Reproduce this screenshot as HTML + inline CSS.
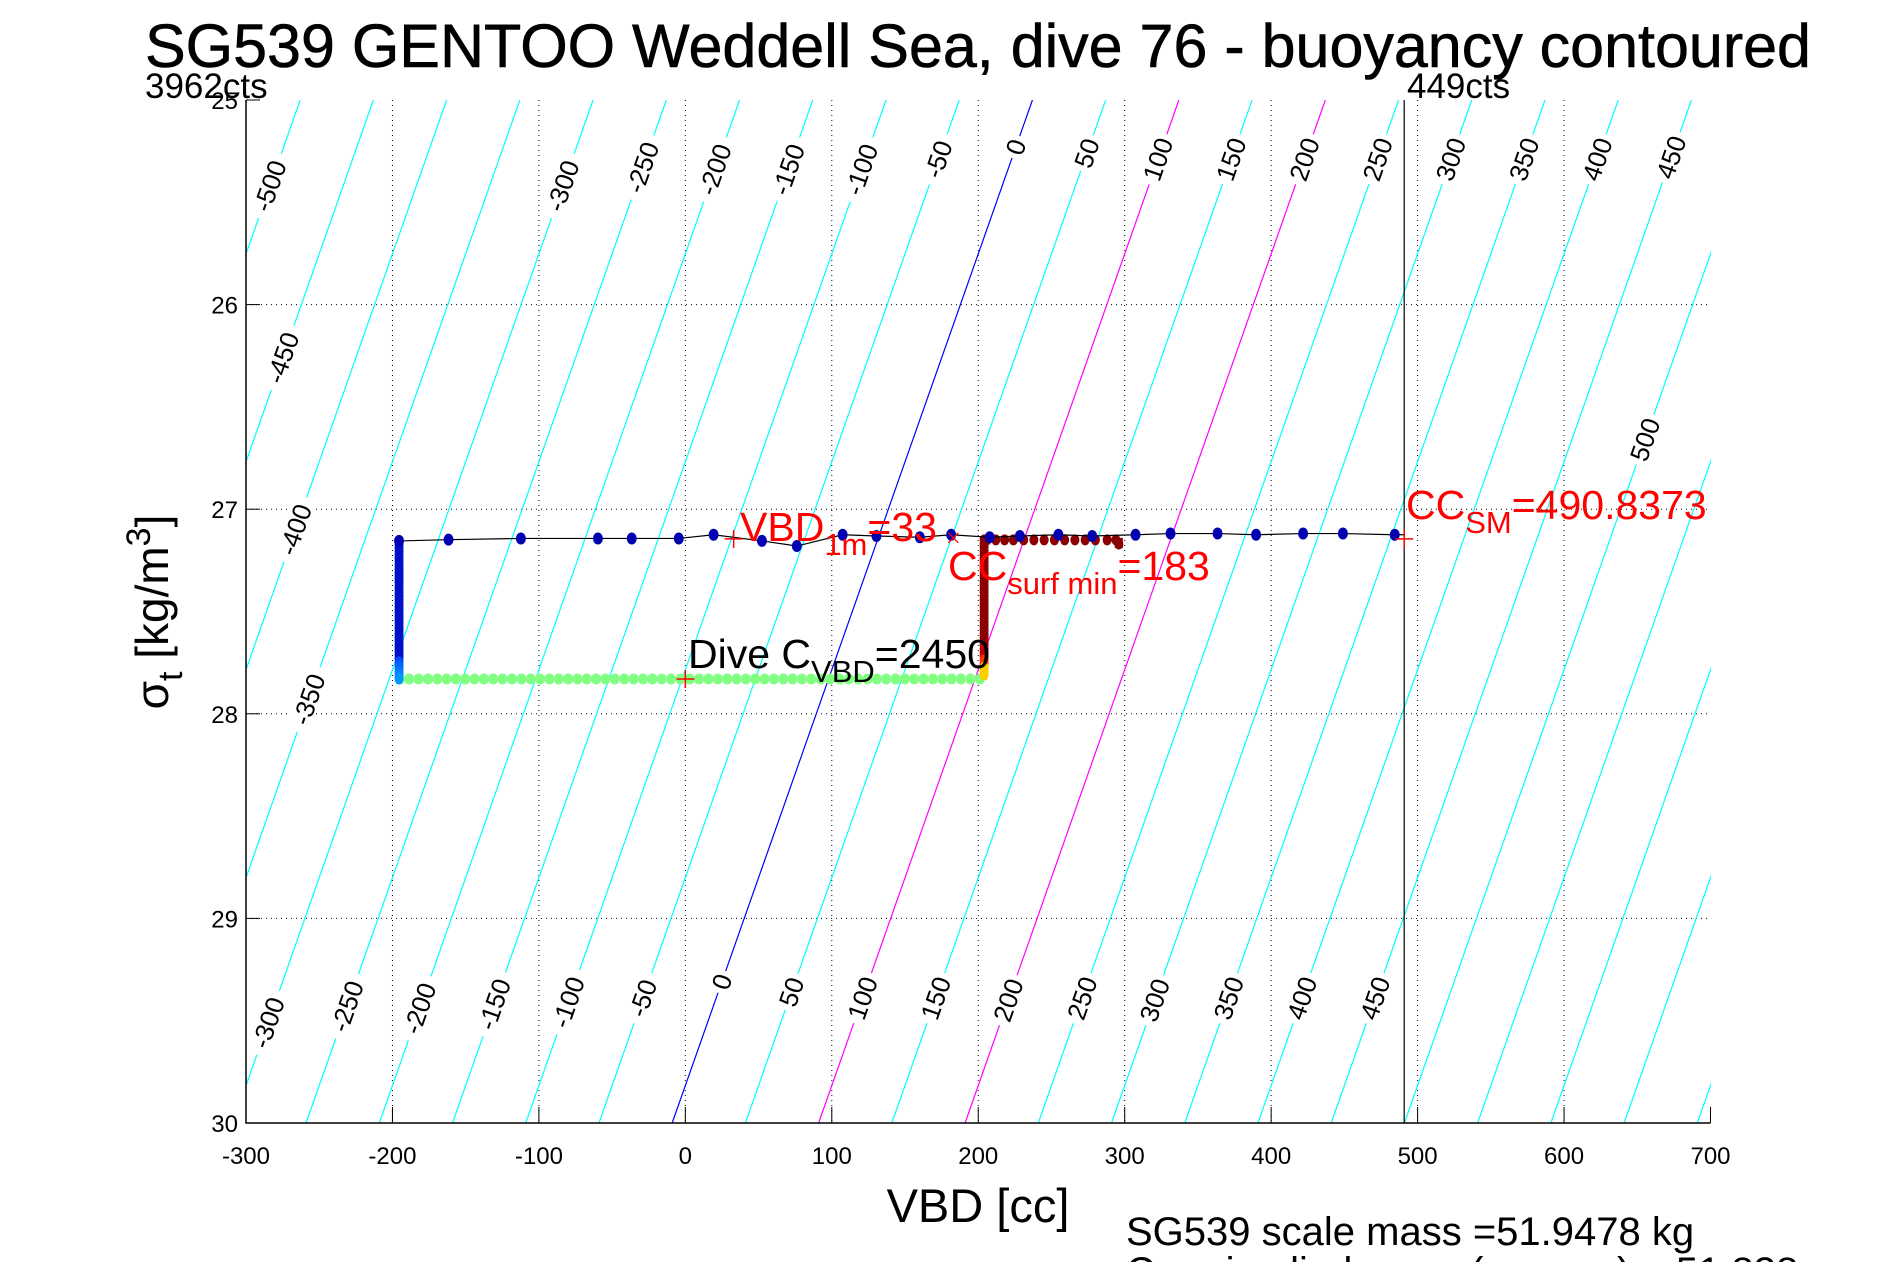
<!DOCTYPE html>
<html><head><meta charset="utf-8">
<style>
html,body{margin:0;padding:0;background:#fff;}
svg{display:block;font-family:"Liberation Sans",Arial,sans-serif;}
</style></head>
<body>
<svg id="chart" width="1891" height="1262" viewBox="0 0 1891 1262" xmlns="http://www.w3.org/2000/svg">
<defs><clipPath id="plotclip"><rect x="246" y="100" width="1465" height="1023"/></clipPath></defs>
<rect x="0" y="0" width="1891" height="1262" fill="#fff"/>
<g id="grid"></g>
<g id="contours" clip-path="url(#plotclip)"></g>
<g id="clabels"></g>
<g id="series"></g>
<g id="axes"></g>
<text x="978" y="67" font-size="61" text-anchor="middle" stroke="#000" stroke-width="0.6">SG539 GENTOO Weddell Sea, dive 76 - buoyancy contoured</text>
<text x="145" y="98" font-size="35">3962cts</text>
<text x="1407" y="98" font-size="35">449cts</text>
<text x="978" y="1222" font-size="47" text-anchor="middle">VBD [cc]</text>
<text transform="translate(168,612) rotate(-90)" font-size="46" text-anchor="middle">σ<tspan font-size="34" dy="14">t</tspan><tspan dy="-14"> [kg/m</tspan><tspan font-size="34" dy="-18">3</tspan><tspan dy="18">]</tspan></text>
<text x="1126" y="1245" font-size="40">SG539 scale mass =51.9478 kg</text>
<text x="1126" y="1285" font-size="40">C<tspan font-size="29" dy="10">VBD</tspan><tspan dy="-10"> implied mass (apogee) = 51.838</tspan></text>
</svg>
<script>
const xTicks=[-300,-200,-100,0,100,200,300,400,500,600,700];
const yTicks=[25,26,27,28,29,30];
const contourLevels=[-800,-750,-700,-650,-600,-550,-500,-450,-400,-350,-300,-250,-200,-150,-100,-50,0,50,100,150,200,250,300,350,400,450,500,550,600,650,700,750];
const topLabelVals=[-500,-300,-250,-200,-150,-100,-50,0,50,100,150,200,250,300,350,400,450];
const topLabelSig=[25.42,25.42,25.33,25.34,25.34,25.34,25.29,25.23,25.26,25.29,25.29,25.29,25.29,25.29,25.29,25.29,25.28];
const sideLabelVals=[-450,-400,-350,500];
const sideLabelSig=[26.26,27.1,27.93,26.66];
const botLabelVals=[-300,-250,-200,-150,-100,-50,0,50,100,150,200,250,300,350,400,450];
const botLabelSig=[29.51,29.43,29.44,29.42,29.41,29.39,29.31,29.36,29.39,29.39,29.4,29.39,29.4,29.39,29.39,29.39];
const descentVBD=[-195.5,-161.7,-112.3,-59.7,-36.6,-4.5,19.3,52.3,76.1,107.4,130.5,160.1,181.5,207.8,228.4,254.7,277.8,307.4,331.3,363.4,389.7,421.8,449,484.4];
const descentSig=[27.155,27.149,27.143,27.143,27.143,27.143,27.125,27.155,27.18,27.125,27.131,27.137,27.125,27.137,27.131,27.125,27.131,27.125,27.119,27.119,27.125,27.119,27.119,27.125];
const surfVBD=[206,212,218,224,231,238,245,252,259,266,273,280,288,294,296];
const surfSig=[27.15,27.15,27.15,27.15,27.15,27.15,27.15,27.15,27.15,27.15,27.15,27.15,27.15,27.15,27.17];
const bottomSig=27.83;
const leftVBD=-195.5;
const rightVBD=204;
const greenStart=-195, greenEnd=201;
const ccSM=490.8373, vbd1m=33, ccSurf=183;

const NS='http://www.w3.org/2000/svg';
const X0=246,X1=1710.5,Y0=100,Y1=1123;
const xs=v=>X0+(v+300)/1000*(X1-X0);
const ys=s=>Y0+(s-25)/5*(Y1-Y0);
const cVBD=(b,s)=>b-9+49.2*(30-s);
function mk(tag,attrs,parent){const e=document.createElementNS(NS,tag);for(const k in attrs)e.setAttribute(k,attrs[k]);parent.appendChild(e);return e;}
const grid=document.getElementById('grid'),axes=document.getElementById('axes'),cont=document.getElementById('contours'),cl=document.getElementById('clabels'),ser=document.getElementById('series');

xTicks.forEach(v=>{
  if(v>-300&&v<700){const g=mk('line',{x1:xs(v),x2:xs(v),y1:Y0,y2:Y1,stroke:'#000','stroke-width':1,'stroke-dasharray':'1 4'},grid);
  }
  const t=mk('line',{x1:xs(v),x2:xs(v),y1:Y1,y2:Y1-16,stroke:'#000'},axes);
  
  const l=mk('text',{x:xs(v),y:Y1+41,'font-size':24,'text-anchor':'middle'},axes);l.textContent=v;
  
});
yTicks.forEach(s=>{
  if(s>25&&s<30){const g=mk('line',{x1:X0,x2:X1,y1:ys(s),y2:ys(s),stroke:'#000','stroke-width':1,'stroke-dasharray':'1 4'},grid);
  }
  const t=mk('line',{x1:X0,x2:X0+14,y1:ys(s),y2:ys(s),stroke:'#000'},axes);
  
  const l=mk('text',{x:X0-8,y:ys(s)+9,'font-size':24,'text-anchor':'end'},axes);l.textContent=s;
  
});
const fr=mk('path',{d:`M${X0},${Y0}V${Y1}H${X1}`,fill:'none',stroke:'#000','stroke-width':1.5},axes);


contourLevels.forEach(b=>{
  const col=b===0?'#0000ff':(b===100||b===200)?'#ff00ff':'#00ffff';
  const l=mk('line',{x1:xs(cVBD(b,30)),y1:ys(30),x2:xs(cVBD(b,25)),y2:ys(25),stroke:col,'stroke-width':1.2},cont);
  
});
function clabel(b,s){
  const x=xs(cVBD(b,s)),y=ys(s);
  const g=mk('g',{transform:`translate(${x},${y}) rotate(-70.6)`},cl);
  
  const w=String(b).length*15+8;
  mk('rect',{x:-w/2,y:-13,width:w,height:24,fill:'#fff'},g);
  const t=mk('text',{x:0,y:9,'font-size':26,'text-anchor':'middle'},g);t.textContent=b;
}
topLabelVals.forEach((b,i)=>clabel(b,topLabelSig[i]));
sideLabelVals.forEach((b,i)=>clabel(b,sideLabelSig[i]));
botLabelVals.forEach((b,i)=>clabel(b,botLabelSig[i]));

const cc=mk('line',{x1:xs(ccSM),x2:xs(ccSM),y1:Y0,y2:Y1,stroke:'#000','stroke-width':1.2},ser);


const nG=62;
for(let i=0;i<=nG;i++){const v=greenStart+(greenEnd-greenStart)*i/nG;
  const c=mk('ellipse',{cx:xs(v),cy:ys(bottomSig),rx:5,ry:5.5,fill:'#80ff80'},ser);
  }
const nB=40;
for(let i=0;i<=nB;i++){const s=descentSig[0]+(bottomSig-descentSig[0])*i/nB;
  const f=i/nB; const col=f>0.85?`rgb(0,${Math.round(60+(f-0.85)*600)},255)`:'#0010c8';
  const c=mk('ellipse',{cx:xs(leftVBD),cy:ys(s),rx:4.5,ry:5.5,fill:col},ser);
  }
const nR=36;
for(let i=0;i<=nR;i++){const s=surfSig[0]+(bottomSig-0.02-surfSig[0])*i/nR;
  const f=i/nR; const col=f>0.93?'#ffcc00':f>0.88?'#ff3000':f>0.8?'#c00000':'#8b0000';
  const c=mk('ellipse',{cx:xs(rightVBD),cy:ys(s),rx:4.5,ry:5.5,fill:col},ser);
  }
surfVBD.forEach((v,i)=>{const c=mk('ellipse',{cx:xs(v),cy:ys(surfSig[i]),rx:4.5,ry:5.5,fill:'#8b0000'},ser);
  });
const sl=mk('line',{x1:xs(296),x2:xs(296),y1:ys(27.14),y2:ys(27.19),stroke:'#8b0000','stroke-width':8},ser);

const pts=descentVBD.map((v,i)=>`${xs(v)},${ys(descentSig[i])}`);
pts.unshift(`${xs(leftVBD)},${ys(descentSig[0])}`);
pts.push(`${xs(ccSM)},${ys(27.125)}`);
const pl=mk('polyline',{points:pts.join(' '),fill:'none',stroke:'#000','stroke-width':1.2},ser);

descentVBD.forEach((v,i)=>{const c=mk('ellipse',{cx:xs(v),cy:ys(descentSig[i]),rx:5,ry:6,fill:'#0000b0'},ser);
  });
function plus(v,s,name){const g=mk('path',{d:`M${xs(v)-9},${ys(s)}h18M${xs(v)},${ys(s)-9}v18`,stroke:'#ff0000','stroke-width':1.5},ser);
  }
plus(vbd1m,27.145,'vbd1m-marker');plus(0,bottomSig,'dive-cvbd-marker');plus(ccSM,27.145,'cc-sm-marker');
const xm=mk('path',{d:`M${xs(ccSurf)-5},${ys(27.14)-5}l10,10M${xs(ccSurf)+5},${ys(27.14)-5}l-10,10`,stroke:'#ff0000','stroke-width':1.3},ser);

function ann(x,y,main,sub,rest,col,name){
  const t=mk('text',{x:x,y:y,'font-size':41,fill:col},ser);
  
  t.innerHTML=`${main}<tspan font-size="31" dy="14">${sub}</tspan><tspan dy="-14">${rest}</tspan>`;
}
ann(740,541,'VBD','1m','=33','#ff0000','vbd1m-annotation');
ann(948,580,'CC','surf min','=183','#ff0000','cc-surf-annotation');
ann(1406,519,'CC','SM','=490.8373','#ff0000','cc-sm-annotation');
ann(688,668,'Dive C','VBD','=2450','#000','dive-cvbd-annotation');
</script>
</body></html>
